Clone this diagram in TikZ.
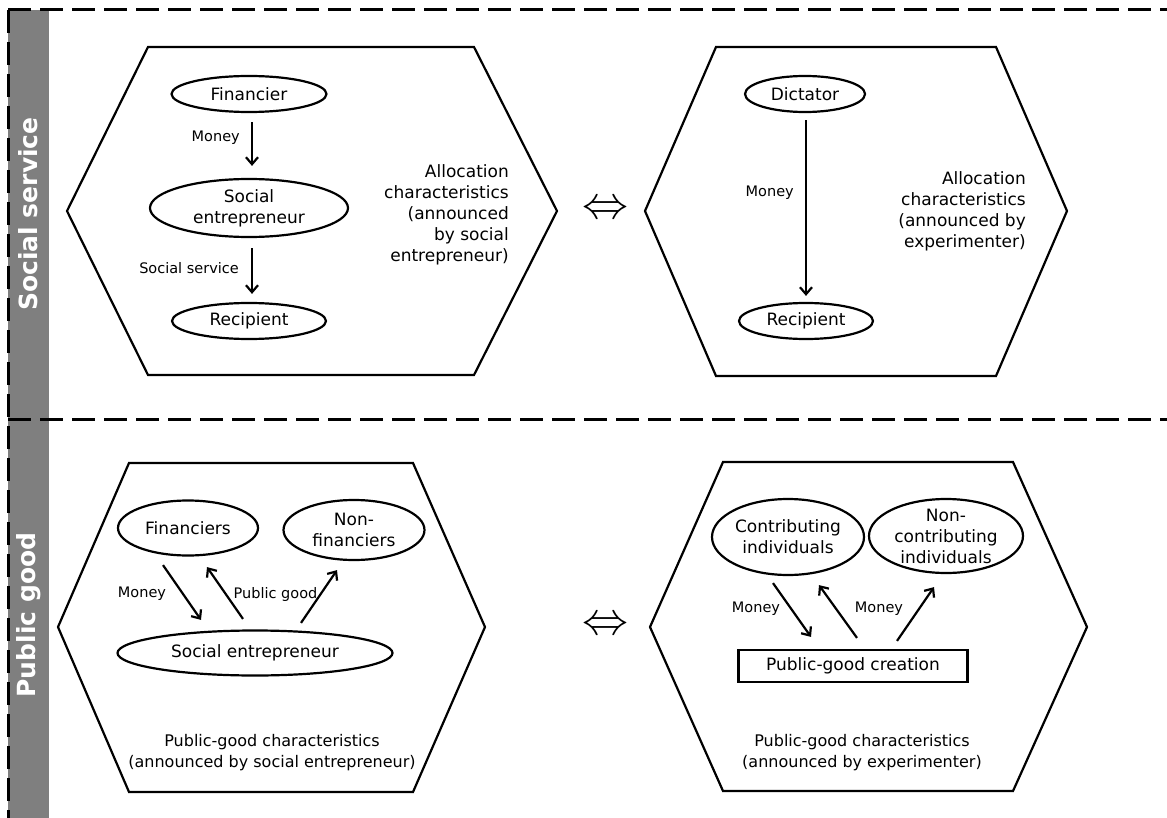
\documentclass[tikz,border=0pt]{standalone}
\usepackage{fontspec}
\setmainfont{DejaVu Sans}
\usetikzlibrary{shapes.geometric,arrows.meta}
\definecolor{sidegray}{HTML}{7F7F7F}
\begin{document}
\begin{tikzpicture}[x=1pt,y=-1pt,
  hexa/.style={line width=2.2pt, line join=miter},
  ell/.style={ellipse, draw, line width=2.2pt, inner sep=0pt},
  lbl/.style={font=\fontsize{17}{21}\selectfont, align=center, inner sep=0pt},
  small/.style={font=\fontsize{14.5}{18}\selectfont, inner sep=0pt},
  desc/.style={font=\fontsize{16}{21}\selectfont, inner sep=0pt},
  alloc/.style={font=\fontsize{17}{21}\selectfont, inner sep=0pt, align=right, anchor=east},
  arr/.style={line width=2.2pt, -{Straight Barb[length=7pt,width=12pt]}},
  divider/.style={line width=3pt, dash pattern=on 23pt off 9pt},
  side/.style={text=white, font=\fontsize{25}{25}\selectfont\bfseries, rotate=90},
  equiv/.style={inner sep=0pt},
]
\useasboundingbox (0,0) rectangle (1167,818);

% side bar
\fill[sidegray] (8,10) rectangle (49,818);
\node[side] (ss) at (28.5,214) {Social service};
\node[side] (pg) at (28.5,615) {Public good};

% dashed dividers
\draw[divider] (8,10) -- (1167,10);
\draw[divider] (8,419) -- (1167,419);
\draw[divider] (8.5,10) -- (8.5,818);

% hexagons
\draw[hexa] (67,211) -- (148,47) -- (474,47) -- (557,211) -- (474,375) -- (148,375) -- cycle;
\draw[hexa] (645,211) -- (716,47) -- (996,47) -- (1067,211) -- (996,376) -- (716,376) -- cycle;
\draw[hexa] (58,627) -- (129,463) -- (413,463) -- (485,627) -- (413,792) -- (129,792) -- cycle;
\draw[hexa] (650,627) -- (723,462) -- (1013,462) -- (1087,627) -- (1013,791) -- (723,791) -- cycle;

% equivalence symbols
\node[equiv] (eq1) at (605,210) {\resizebox{46pt}{!}{$\Leftrightarrow$}};
\node[equiv] (eq2) at (605,626) {\resizebox{46pt}{!}{$\Leftrightarrow$}};

% ---- top left
\node[ell, minimum width=155pt, minimum height=36pt, label={[lbl]center:Financier}] (fin) at (249,94) {};
\node[ell, minimum width=198pt, minimum height=58pt, label={[lbl]center:Social\\entrepreneur}] (se1) at (249,208) {};
\node[ell, minimum width=154pt, minimum height=36pt, label={[lbl]center:Recipient}] (rec1) at (249,321) {};
\draw[arr] ([shift={(3,9)}]fin.south) -- ([shift={(3,-12)}]se1.north);
\draw[arr] ([shift={(3,10)}]se1.south) -- ([shift={(3,-8)}]rec1.north);
\node[small, anchor=east] (m1) at (240,138) {Money};
\node[small, anchor=east] (s1) at (239,268) {Social service};
\node[alloc] (alloc1) at (509,214.5) {Allocation\\characteristics\\(announced\\by social\\entrepreneur)};

% ---- top right
\node[ell, minimum width=120pt, minimum height=36pt, label={[lbl]center:Dictator}] (dict) at (805,94) {};
\node[ell, minimum width=134pt, minimum height=36pt, label={[lbl]center:Recipient}] (rec2) at (806,321) {};
\draw[arr] ([shift={(1,7)}]dict.south) -- ([shift={(0,-6)}]rec2.north);
\node[small, anchor=east] (m2) at (794,193) {Money};
\node[alloc] (alloc2) at (1026,211.5) {Allocation\\characteristics\\(announced by\\experimenter)};

% ---- bottom left
\node[ell, minimum width=140pt, minimum height=55pt, label={[lbl]center:Financiers}] (fins) at (188,528) {};
\node[ell, minimum width=141pt, minimum height=60pt, label={[lbl]center:Non-\\financiers}] (nonfin) at (354,530) {};
\node[ell, minimum width=275pt, minimum height=45pt, label={[lbl]center:Social entrepreneur}] (se2) at (255,653) {};
\draw[arr] ([shift={(-25,8.5)}]fins.south) -- ([shift={(-54,-9.5)}]se2.north);
\draw[arr] ([shift={(-12,-10.5)}]se2.north) -- ([shift={(19,10.5)}]fins.south);
\draw[arr] ([shift={(46,-6.5)}]se2.north) -- ([shift={(-17,9)}]nonfin.south);
\node[small] (m3) at (142,594) {Money};
\node[small] (pglab) at (275.5,594) {Public good};
\node[desc, align=center] (pgc1) at (272,752.5) {Public-good characteristics\\(announced by social entrepreneur)};

% ---- bottom right
\node[ell, minimum width=152pt, minimum height=76pt, label={[lbl]center:Contributing\\individuals}] (contrib) at (788,537) {};
\node[ell, minimum width=154pt, minimum height=74pt, label={[lbl]center:Non-\\contributing\\individuals}] (noncontrib) at (946,536) {};
\node[draw, line width=2.2pt, minimum width=229pt, minimum height=32pt, lbl] (pgc) at (853,666) {Public-good creation};
\draw[arr] ([shift={(-15,7)}]contrib.south) -- ([shift={(-42,-12)}]pgc.north);
\draw[arr] ([shift={(4,-11)}]pgc.north) -- ([shift={(31,9)}]contrib.south);
\draw[arr] ([shift={(44,-8)}]pgc.north) -- ([shift={(-12,13)}]noncontrib.south);
\node[small] (m4) at (756,609) {Money};
\node[small] (m5) at (879,609) {Money};
\node[desc, align=center] (pgc2) at (862,752.5) {Public-good characteristics\\(announced by experimenter)};
\end{tikzpicture}
\end{document}
